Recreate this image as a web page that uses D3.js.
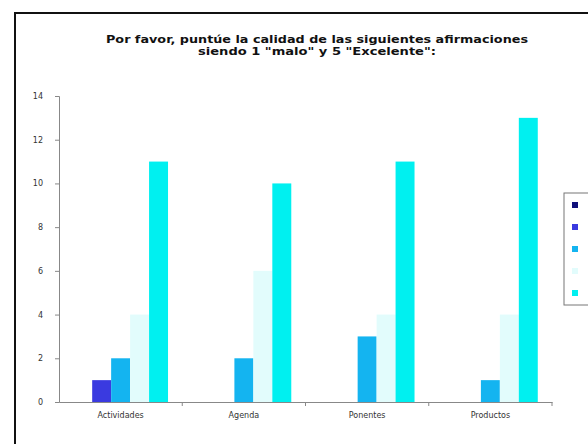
<!DOCTYPE html>
<html>
<head>
<meta charset="utf-8">
<script src="https://cdn.jsdelivr.net/npm/d3@7"></script>
<style>
  html, body { margin: 0; padding: 0; background: #fff; }
  svg { display: block; }
</style>
</head>
<body>
<svg id="chart" width="588" height="444"></svg>
<script>
const categories = ["Actividades", "Agenda", "Ponentes", "Productos"];
const seriesNames = ["1", "2", "3", "4", "5"];
const seriesColors = ["#10107a", "#3a3ae0", "#14b4f0", "#e2fcfc", "#00f0f0"];
const s1 = [0, 0, 0, 0];
const s2 = [1, 0, 0, 0];
const s3 = [2, 2, 3, 1];
const s4 = [4, 6, 4, 4];
const s5 = [11, 10, 11, 13];
const seriesValues = [s1, s2, s3, s4, s5];
const yTicks = [0, 2, 4, 6, 8, 10, 12, 14];
const titleLines = ["Por favor, puntúe la calidad de las siguientes afirmaciones", "siendo 1 \"malo\" y 5 \"Excelente\":"];

(function () {
const svg = d3.select("#chart");

// outer frame
svg.append("rect").attr("x", 15).attr("y", 13).attr("width", 600).attr("height", 460)
  .attr("fill", "#fff").attr("stroke", "#111").attr("stroke-width", 2);

// title
const tl = [{t: titleLines[0], y: 43, w: 422}, {t: titleLines[1], y: 55, w: 238}];
svg.selectAll("text.title").data(tl).join("text")
  .attr("class", "title")
  .attr("x", 317).attr("y", d => d.y)
  .attr("text-anchor", "middle")
  .attr("font-family", "DejaVu Sans, Verdana, sans-serif")
  .attr("font-weight", "bold").attr("font-size", 10)
  .attr("fill", "#111")
  .attr("textLength", d => d.w).attr("lengthAdjust", "spacingAndGlyphs")
  .text(d => d.t);

const pLeft = 59, pRight = 552, pTop = 96, pBottom = 402;
const x = d3.scaleBand().domain(categories).range([pLeft, pRight]).padding(0);
const xs = d3.scaleBand().domain(seriesNames).range([0, x.bandwidth()]).paddingInner(0).paddingOuter(0.75);
const y = d3.scaleLinear().domain([0, 14]).range([pBottom, pTop]);

// bars
const g = svg.append("g");
categories.forEach((c, ci) => {
  seriesNames.forEach((s, si) => {
    const v = seriesValues[si][ci];
    if (v > 0) {
      g.append("rect")
        .attr("x", x(c) + xs(s))
        .attr("y", y(v))
        .attr("width", xs.bandwidth())
        .attr("height", y(0) - y(v))
        .attr("fill", seriesColors[si]);
    }
  });
});

// y axis
const yAxis = svg.append("g").attr("transform", `translate(${pLeft},0)`)
  .call(d3.axisLeft(y).tickValues(yTicks).tickSize(4).tickPadding(12));
yAxis.select(".domain").attr("stroke", "#888");
yAxis.selectAll(".tick line").attr("stroke", "#888");
yAxis.selectAll(".tick text").attr("font-family", "Verdana, DejaVu Sans, sans-serif")
  .attr("font-size", 8).attr("fill", "#333");

// x axis
const xAxis = svg.append("g").attr("transform", `translate(0,${pBottom})`)
  .call(d3.axisBottom(x).tickSize(0).tickPadding(10));
xAxis.select(".domain").attr("stroke", "#888");
xAxis.selectAll(".tick text").attr("font-family", "Verdana, DejaVu Sans, sans-serif")
  .attr("font-size", 8).attr("fill", "#333");
// category separator ticks
svg.append("g").selectAll("line").data(categories.slice(1).concat(["__end"])).join("line")
  .attr("x1", d => d === "__end" ? pRight : x(d)).attr("x2", d => d === "__end" ? pRight : x(d))
  .attr("y1", pBottom).attr("y2", pBottom + 4).attr("stroke", "#888");

// legend (labels fall outside the visible area)
const lg = svg.append("g");
lg.append("rect").attr("x", 564).attr("y", 193).attr("width", 60).attr("height", 112)
  .attr("fill", "#fff").attr("stroke", "#777").attr("stroke-width", 1);
lg.selectAll("rect.sw").data(seriesNames).join("rect")
  .attr("class", "sw")
  .attr("x", 572).attr("y", (d, i) => 202 + i * 22)
  .attr("width", 6).attr("height", 6)
  .attr("fill", (d, i) => seriesColors[i]);
})();
</script>
</body>
</html>
